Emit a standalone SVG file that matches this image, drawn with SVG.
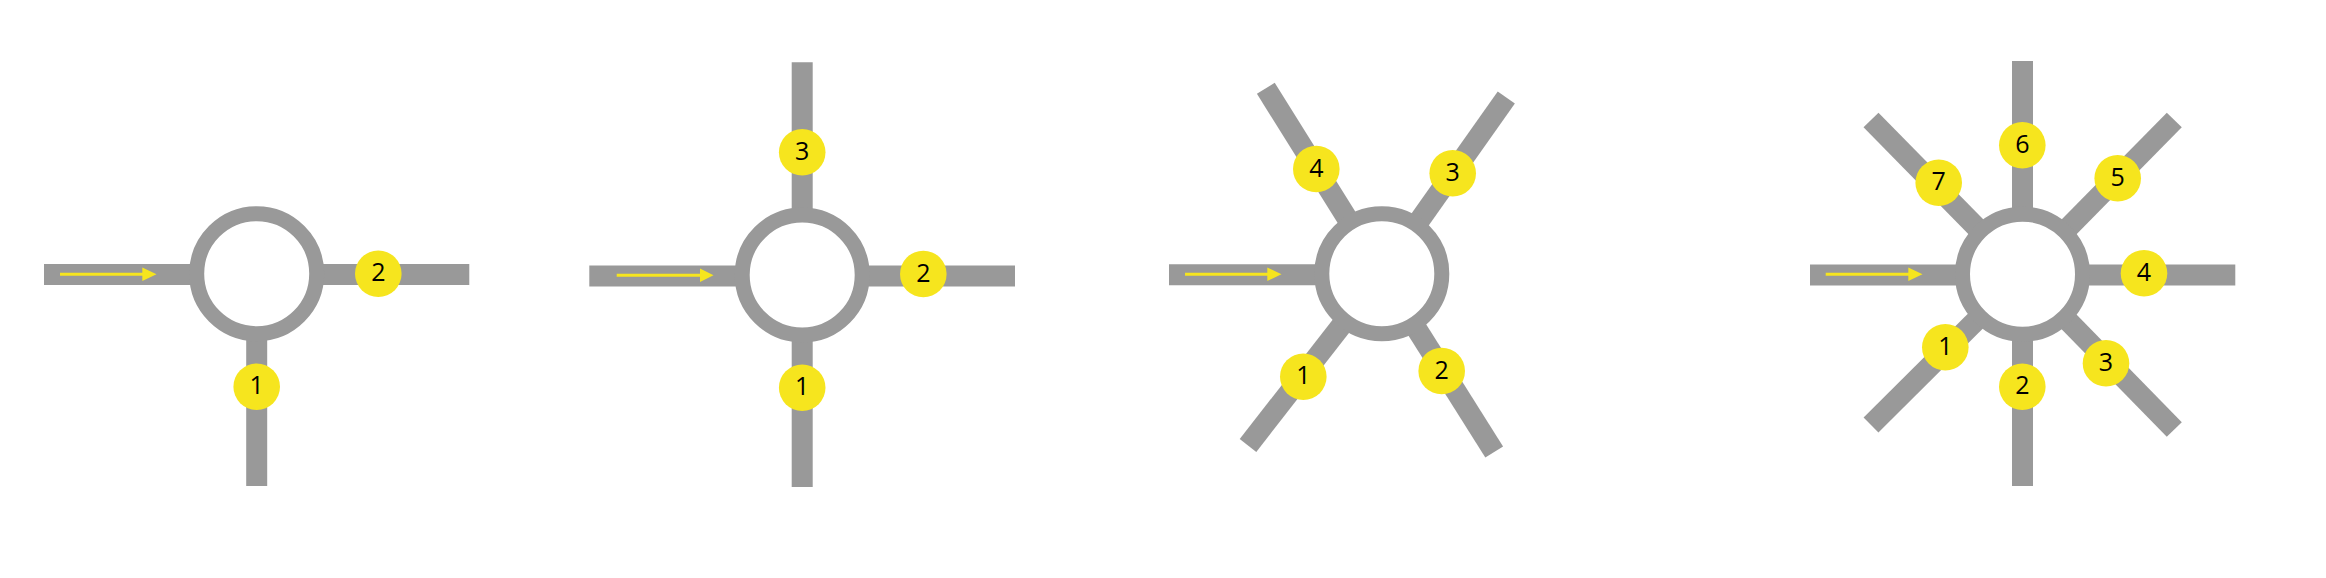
<svg xmlns="http://www.w3.org/2000/svg" width="2326" height="578" viewBox="0 0 2326 578">
<style>
.road{stroke:#999999;stroke-width:21;stroke-linecap:butt;fill:none}
.ring{fill:#ffffff;stroke:#999999;stroke-width:15}
.arr{stroke:#f6e51e;stroke-width:3;fill:none}
.head{fill:#f6e51e}
.badge circle{fill:#f6e51e}
.badge text{font-family:"Open Sans","Noto Sans",sans-serif;font-size:25px;fill:#000;text-anchor:middle}
</style>
<rect width="2326" height="578" fill="#ffffff"/>
<g id="roads">
  <line class="road" x1="44" y1="274.5" x2="256.7" y2="274.5"/>
  <line class="road" x1="256.7" y1="274.5" x2="469.3" y2="274.5"/>
  <line class="road" x1="256.7" y1="274" x2="256.7" y2="486"/>

  <line class="road" x1="589.3" y1="276" x2="802.2" y2="276"/>
  <line class="road" x1="802.2" y1="276" x2="1015" y2="276"/>
  <line class="road" x1="802.2" y1="62.3" x2="802.2" y2="487"/>

  <line class="road" x1="1169" y1="274.7" x2="1381.8" y2="274.7"/>
  <line class="road" x1="1381.8" y1="273.7" x2="1265.8" y2="88.3"/>
  <line class="road" x1="1381.8" y1="273.7" x2="1506.3" y2="97.5"/>
  <line class="road" x1="1381.8" y1="273.7" x2="1248" y2="445.5"/>
  <line class="road" x1="1381.8" y1="273.7" x2="1494.2" y2="452"/>

  <line class="road" x1="1810" y1="275" x2="2235.3" y2="275"/>
  <line class="road" x1="2022.5" y1="61" x2="2022.5" y2="486"/>
  <line class="road" x1="2022.5" y1="274.2" x2="1871" y2="120"/>
  <line class="road" x1="2022.5" y1="274.2" x2="2174.3" y2="120"/>
  <line class="road" x1="2022.5" y1="274.2" x2="1871" y2="425"/>
  <line class="road" x1="2022.5" y1="274.2" x2="2174.3" y2="429.5"/>
</g>
<g id="roundabout-1">
  <circle class="ring" cx="256.7" cy="273.7" r="60"/>
  <line class="arr" x1="60" y1="274.3" x2="144" y2="274.3"/>
  <polygon class="head" points="142.3,267.6 156.5,274.3 142.3,281"/>
  <g id="r1-exit-1" class="badge"><circle cx="256.7" cy="386.7" r="23.3"/><text x="256.7" y="394.2">1</text></g>
  <g id="r1-exit-2" class="badge"><circle cx="378.3" cy="273.7" r="23.3"/><text x="378.3" y="281.2">2</text></g>
</g>
<g id="roundabout-2">
  <circle class="ring" cx="802.2" cy="275" r="60"/>
  <line class="arr" x1="616.7" y1="275.3" x2="702" y2="275.3"/>
  <polygon class="head" points="700,268.6 713.5,275.3 700,282"/>
  <g id="r2-exit-1" class="badge"><circle cx="802.2" cy="387.7" r="23.3"/><text x="802.2" y="395.2">1</text></g>
  <g id="r2-exit-2" class="badge"><circle cx="923.3" cy="274" r="23.3"/><text x="923.3" y="281.5">2</text></g>
  <g id="r2-exit-3" class="badge"><circle cx="802.2" cy="152.3" r="23.3"/><text x="802.2" y="159.8">3</text></g>
</g>
<g id="roundabout-3">
  <circle class="ring" cx="1381.8" cy="273.7" r="60"/>
  <line class="arr" x1="1185" y1="274.3" x2="1269" y2="274.3"/>
  <polygon class="head" points="1267.3,267.6 1281.5,274.3 1267.3,281"/>
  <g id="r3-exit-1" class="badge"><circle cx="1303.3" cy="376.7" r="23.3"/><text x="1303.3" y="384.2">1</text></g>
  <g id="r3-exit-2" class="badge"><circle cx="1441.7" cy="371" r="23.3"/><text x="1441.7" y="378.5">2</text></g>
  <g id="r3-exit-3" class="badge"><circle cx="1452.7" cy="173.3" r="23.3"/><text x="1452.7" y="180.8">3</text></g>
  <g id="r3-exit-4" class="badge"><circle cx="1316.3" cy="169" r="23.3"/><text x="1316.3" y="176.5">4</text></g>
</g>
<g id="roundabout-4">
  <circle class="ring" cx="2022.5" cy="274.2" r="60"/>
  <line class="arr" x1="1825.7" y1="274.3" x2="1910" y2="274.3"/>
  <polygon class="head" points="1908.3,267.6 1922.5,274.3 1908.3,281"/>
  <g id="r4-exit-1" class="badge"><circle cx="1945.3" cy="347.3" r="23.3"/><text x="1945.3" y="354.8">1</text></g>
  <g id="r4-exit-2" class="badge"><circle cx="2022.3" cy="386.7" r="23.3"/><text x="2022.3" y="394.2">2</text></g>
  <g id="r4-exit-3" class="badge"><circle cx="2106" cy="363.3" r="23.3"/><text x="2106" y="370.8">3</text></g>
  <g id="r4-exit-4" class="badge"><circle cx="2144" cy="273.3" r="23.3"/><text x="2144" y="280.8">4</text></g>
  <g id="r4-exit-5" class="badge"><circle cx="2117.7" cy="178.3" r="23.3"/><text x="2117.7" y="185.8">5</text></g>
  <g id="r4-exit-6" class="badge"><circle cx="2022.3" cy="145.3" r="23.3"/><text x="2022.3" y="152.8">6</text></g>
  <g id="r4-exit-7" class="badge"><circle cx="1938.7" cy="182.7" r="23.3"/><text x="1938.7" y="190.2">7</text></g>
</g>
</svg>
